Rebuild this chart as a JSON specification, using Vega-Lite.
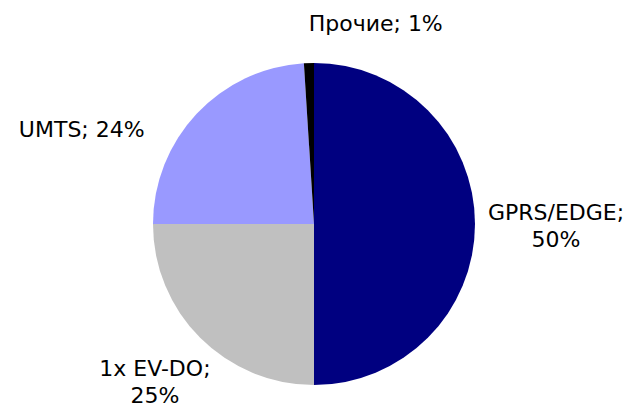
{
  "$schema": "https://vega.github.io/schema/vega-lite/v6.json",
  "width": 628,
  "height": 362,
  "padding": {"left": 0, "top": 43, "right": 10, "bottom": 0},
  "autosize": {"type": "none"},
  "background": "white",
  "config": {"view": {"stroke": null}},
  "data": {
    "values": [
      {"idx": 1, "cat": "GPRS/EDGE", "value": 50, "label": "GPRS/EDGE;\n50%"},
      {"idx": 2, "cat": "1x EV-DO", "value": 25, "label": "1x EV-DO;\n25%"},
      {"idx": 3, "cat": "UMTS", "value": 24, "label": "UMTS; 24%"},
      {"idx": 4, "cat": "Прочие", "value": 1, "label": "Прочие; 1%"}
    ]
  },
  "encoding": {
    "theta": {"field": "value", "type": "quantitative", "stack": true},
    "order": {"field": "idx", "type": "quantitative"}
  },
  "layer": [
    {
      "mark": {"type": "arc", "outerRadius": 161},
      "encoding": {
        "color": {
          "field": "cat",
          "type": "nominal",
          "scale": {
            "domain": ["GPRS/EDGE", "1x EV-DO", "UMTS", "Прочие"],
            "range": ["#000080", "#C0C0C0", "#9999FF", "#000000"]
          },
          "legend": null
        }
      }
    },
    {
      "mark": {"type": "text", "radius": 242, "dy": -11.5, "font": "DejaVu Sans", "fontSize": 22, "lineBreak": "\n", "lineHeight": 27, "align": "center", "baseline": "middle", "color": "#000000"},
      "encoding": {"text": {"condition": {"test": "datum.cat === 'GPRS/EDGE'", "field": "label"}, "value": ""}}
    },
    {
      "mark": {"type": "text", "radius": 225, "dy": -14, "font": "DejaVu Sans", "fontSize": 22, "lineBreak": "\n", "lineHeight": 27, "align": "center", "baseline": "middle", "color": "#000000"},
      "encoding": {"text": {"condition": {"test": "datum.cat === '1x EV-DO'", "field": "label"}, "value": ""}}
    },
    {
      "mark": {"type": "text", "radius": 250, "dx": -50, "dy": 77, "font": "DejaVu Sans", "fontSize": 22, "align": "center", "baseline": "middle", "color": "#000000"},
      "encoding": {"text": {"condition": {"test": "datum.cat === 'UMTS'", "field": "label"}, "value": ""}}
    },
    {
      "mark": {"type": "text", "radius": 200, "dx": 68, "dy": 0, "font": "DejaVu Sans", "fontSize": 22, "align": "center", "baseline": "middle", "color": "#000000"},
      "encoding": {"text": {"condition": {"test": "datum.cat === 'Прочие'", "field": "label"}, "value": ""}}
    }
  ]
}
